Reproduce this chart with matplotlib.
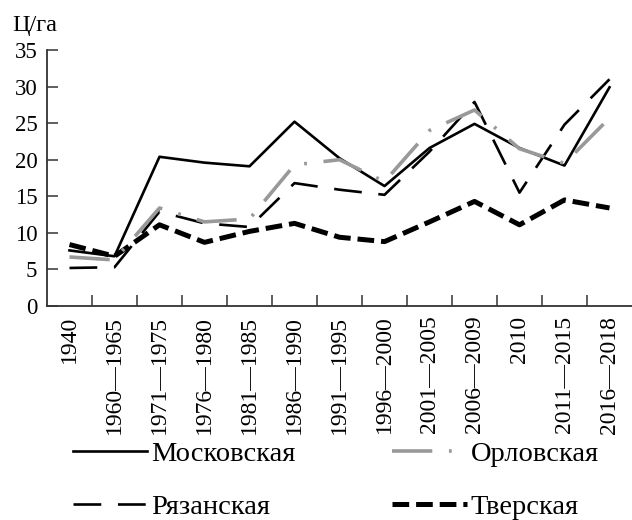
import matplotlib
matplotlib.use("Agg")
import matplotlib.pyplot as plt
import numpy as np

periods = ["1940", "1960—1965", "1971—1975", "1976—1980", "1981—1985",
           "1986—1990", "1991—1995", "1996—2000", "2001—2005", "2006—2009",
           "2010", "2011—2015", "2016—2018"]
moscow = [7.6, 6.8, 20.4, 19.6, 19.1, 25.2, 20.2, 16.4, 21.6, 24.9, 21.6, 19.2, 29.9]
orel = [6.7, 6.3, 13.4, 11.5, 11.9, 19.3, 20.0, 17.0, 24.0, 26.8, 21.5, 19.5, 25.7]
ryazan = [5.2, 5.3, 12.9, 11.3, 10.8, 16.8, 15.9, 15.2, 21.1, 27.9, 15.5, 24.8, 31.0]
tver = [8.4, 6.8, 11.1, 8.7, 10.2, 11.3, 9.4, 8.8, 11.5, 14.3, 11.1, 14.5, 13.4]

plt.rcParams["font.family"] = "serif"
plt.rcParams["font.serif"] = ["Liberation Serif", "DejaVu Serif"]
plt.rcParams["lines.scale_dashes"] = False

fig = plt.figure(figsize=(6.32, 5.2), dpi=100)
ax = fig.add_axes([47 / 632, 1 - 306 / 520, 1 - 47 / 632, 256 / 520])

x = np.arange(len(periods))
l_msk, = ax.plot(x, moscow, color="black", lw=1.9, label="Московская", zorder=3)
l_rzn, = ax.plot(x, ryazan, color="black", lw=1.9, linestyle=(0, (20, 12)),
                 label="Рязанская", zorder=3)
l_tvr, = ax.plot(x, tver, color="black", lw=3.6, linestyle=(0, (12, 5)),
                 label="Тверская", zorder=3)
l_orl, = ax.plot(x, orel, color="#999999", lw=2.6, linestyle=(0, (29, 12, 2, 12)),
                 label="Орловская", zorder=4)

ax.set_xlim(-0.5, len(periods) - 0.5)
ax.set_ylim(0, 35)
ax.set_yticks(np.arange(0, 36, 5))
ax.set_xticks(np.arange(0.5, len(periods) - 1, 1))
ax.set_xticklabels([])
ax.set_xticks(x, minor=True)
ax.set_xticklabels(periods, minor=True, rotation=90, va="top", fontsize=17)

for side in ["top", "right"]:
    ax.spines[side].set_visible(False)
for side in ["left", "bottom"]:
    ax.spines[side].set_color("#333333")
    ax.spines[side].set_linewidth(1.3)

ax.tick_params(axis="y", direction="in", length=8, width=1.1, color="#333333",
               labelsize=16.5, pad=7)
ax.tick_params(axis="x", which="major", direction="in", length=8, width=1.1,
               color="#333333")
ax.tick_params(axis="x", which="minor", length=0, pad=7)

fig.text(12 / 632, 1 - 31 / 520, "Ц/га", fontsize=17.5, va="baseline", ha="left")

fig.legend([l_msk, l_rzn, l_orl, l_tvr],
           ["Московская", "Рязанская", "Орловская", "Тверская"],
           ncol=2, loc="upper left", bbox_to_anchor=(73 / 632, 1 - 441 / 520),
           frameon=False, fontsize=20.5, handlelength=2.6, handletextpad=0.15,
           columnspacing=3.4, labelspacing=0.95, borderaxespad=0, borderpad=0)

fig.savefig("out.png", dpi=100)
